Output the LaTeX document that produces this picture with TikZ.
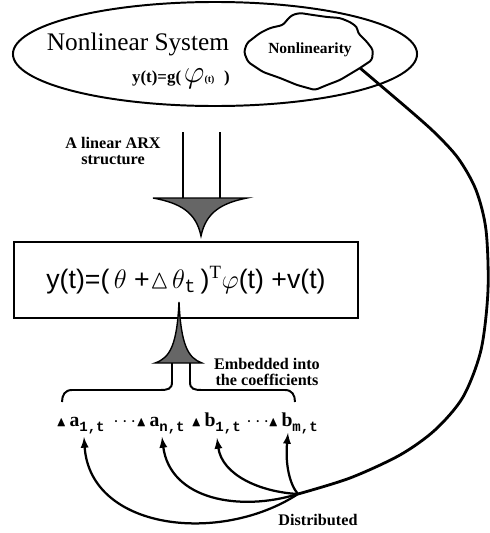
\RequirePackage{fix-cm}
\documentclass[tikz,border=0pt]{standalone}
\usepackage{amssymb}
\usepackage{fontspec}
\setmainfont{Liberation Serif}
\setmonofont{Liberation Mono}
\newfontfamily\eqfont{Liberation Sans}
\usetikzlibrary{shapes.geometric}

\newcommand{\dcoef}[2]{$\scriptstyle\blacktriangle$\,#1\raisebox{-0.6ex}{\ttfamily\bfseries\fontsize{10}{12}\selectfont #2,t}}
\tikzset{
  lbl/.style={font=\fontsize{11.5}{13}\selectfont\bfseries, align=center},
  coef/.style={anchor=base west, inner sep=0pt, font=\fontsize{14}{16}\selectfont\bfseries}
}

\begin{document}
\begin{tikzpicture}[x=0.025cm,y=-0.025cm,>=latex]
  \useasboundingbox (0,0) rectangle (489,533);
  % system
  \node[draw,ellipse,line width=1.4pt,minimum width=10.1cm,minimum height=2.6cm] (sys) at (215,54) {};
  \node[font=\fontsize{18}{20}\selectfont] (title) at (138,44) {Nonlinear System};
  \node[font=\fontsize{12}{14}\selectfont\bfseries] (gfun) at (181,79)
    {y(t)=g(\,\scalebox{1.9}{$\varphi$}{\scriptsize(t)}\,\, )};
  \draw[line width=1.4pt,rounded corners=2pt] (247,43) -- (260,33) -- (270,28) -- (283,25) -- (287,20) -- (292,15)
    -- (300,13) -- (313,15) -- (327,17) -- (340,18) -- (350,22) -- (357,27) -- (358,33) -- (367,42)
    -- (373,50) -- (372,60) -- (360,68) -- (340,80) -- (327,85) -- (315,90) -- (297,85) -- (280,78)
    -- (263,72) -- (248,62) -- (244,52) -- cycle;
  \coordinate (cl) at (360,68);
  \node[font=\fontsize{11}{13}\selectfont\bfseries] (nl) at (310,50) {Nonlinearity};
  % ARX arrow
  \node[lbl] (arx) at (113,151) {A linear ARX\\[-1pt]structure};
  \draw[line width=1.3pt] (183,132) -- (183,198);
  \draw[line width=1.3pt] (220,132) -- (220,198);
  \filldraw[line width=1pt,fill=black!60] (153,198) -- (247,198) .. controls (222,203) and (206,212) .. (201,236)
    .. controls (196,212) and (180,203) .. cycle;
  % model box
  \node[draw,line width=2pt,minimum width=8.6cm,minimum height=1.9cm] (eq) at (186,280)
    {\eqfont\fontsize{19}{22}\selectfont y(t)=(\,$\theta$ +$\vartriangle\!\theta_{\mathtt{t}}$\,)$^{\mathrm{T}}\varphi$(t) +v(t)};
  % embedded arrow
  \filldraw[line width=1pt,fill=black!60] (155,363) .. controls (170,358) and (177,345) .. (179,302)
    .. controls (181,345) and (188,358) .. (202,363) -- cycle;
  \draw[line width=1.4pt] (172,363) -- (172,382) .. controls (172,389) and (168,390) .. (160,390) -- (72,390)
    .. controls (65,390) and (62,395) .. (62,402);
  \draw[line width=1.4pt] (190,363) -- (190,382) .. controls (190,389) and (194,390) .. (202,390) -- (285,390)
    .. controls (292,390) and (295,395) .. (295,402);
  \node[lbl] (emb) at (267,372) {Embedded into\\[-1pt]the coefficients};
  % coefficients
  \node[coef] (c1) at (56,426) {\dcoef{a}{1}};
  \node[coef] (d1) at (113,426) {$\cdots$};
  \node[coef] (c2) at (136,426) {\dcoef{a}{n}};
  \node[coef] (c3) at (191,426) {\dcoef{b}{1}};
  \node[coef] (d2) at (246,426) {$\cdots$};
  \node[coef] (c4) at (268,426) {\dcoef{b}{m}};
  \coordinate (t1) at (84,437);
  \coordinate (t2) at (162,437);
  \coordinate (t3) at (217,438);
  \coordinate (t4) at (288,433);
  \coordinate (hub) at (298,494);
  \node[lbl] (dist) at (318,520) {Distributed};
  % distribution
  \draw[line width=2pt] (cl) -- plot[smooth] coordinates {(400,102) (433,131) (458,158) (476,190) (486,230)
    (488,290) (481,350) (463,397) (435,430) (400,455) (350,478) (hub)};
  \draw[->,line width=1.6pt] (hub) .. controls (220,545) and (90,530) .. (t1);
  \draw[->,line width=1.6pt] (hub) .. controls (240,512) and (170,500) .. (t2);
  \draw[->,line width=1.6pt] (hub) .. controls (260,492) and (222,475) .. (t3);
  \draw[->,line width=1.6pt] (hub) .. controls (290,485) and (285,465) .. (t4);
\end{tikzpicture}
\end{document}
